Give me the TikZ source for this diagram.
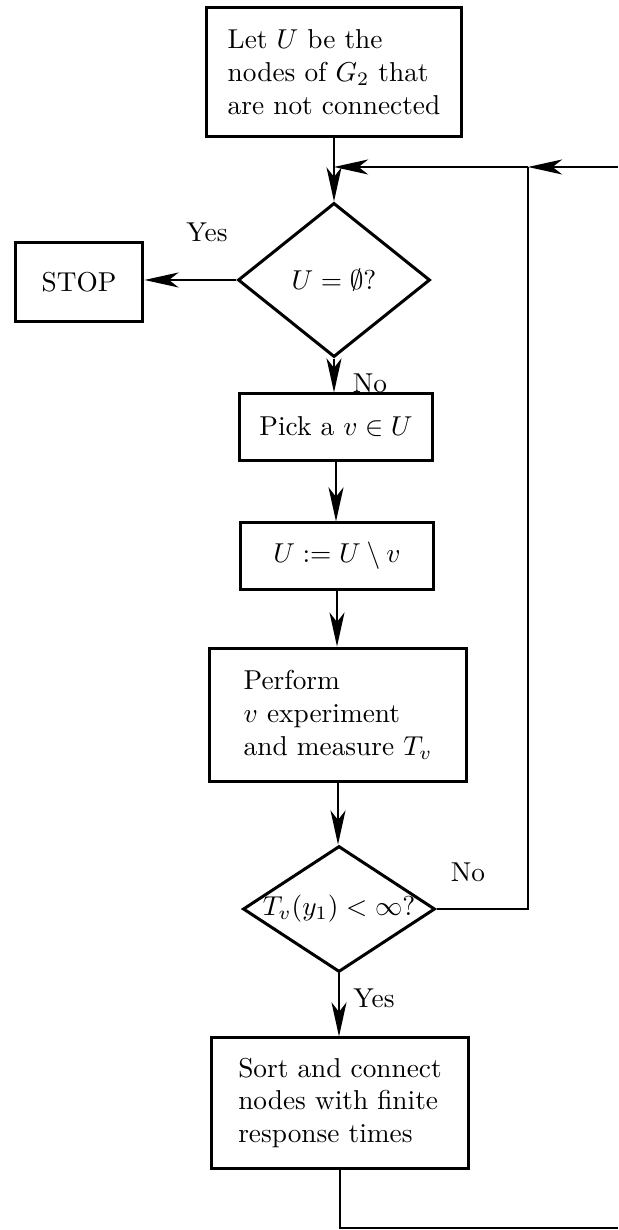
\documentclass[tikz,border=0pt]{standalone}
\usetikzlibrary{shapes.geometric,arrows.meta}

\tikzset{
  box/.style={draw, rectangle, line width=1.1pt, inner sep=0pt, align=left},
  decision/.style={draw, diamond, line width=1.1pt, inner sep=0pt},
  flow/.style={line width=0.6pt, -{Stealth[length=12.5pt,width=5.5pt,inset=3.5pt]}},
  wire/.style={line width=0.6pt},
  lbl/.style={inner sep=0pt}
}

\begin{document}
% one unit = one pixel of a 618 x 1230 page, y running downwards
\begin{tikzpicture}[x=0.366pt, y=-0.366pt]
  \useasboundingbox (0,0) rectangle (618,1230);

  % boxes and decisions
  \node[box, minimum width=93.3pt, minimum height=47.2pt] (init) at (334,72)
    {Let $U$ be the\\ nodes of $G_2$ that\\ are not connected};
  \node[decision, minimum width=70.3pt, minimum height=56.4pt,
        label={center:$U=\emptyset$?}] (empty) at (334,280) {};
  \node[box, minimum width=46.8pt, minimum height=28.9pt, align=center] (stop) at (79,282) {STOP};
  \node[box, minimum width=70.3pt, minimum height=24.2pt, align=center] (pick) at (336,427) {Pick a $v\in U$};
  \node[box, minimum width=70.3pt, minimum height=24.2pt, align=center] (remove) at (337,556) {$U:=U\setminus v$};
  \node[box, minimum width=94pt, minimum height=49pt] (exper) at (338,715)
    {Perform\\ $v$ experiment\\ and measure $T_v$};
  \node[decision, minimum width=70.3pt, minimum height=46.1pt,
        label={center:$T_v(y_1)<\infty$?}] (finite) at (339,909) {};
  \node[box, minimum width=94.4pt, minimum height=47.6pt] (sort) at (340,1103)
    {Sort and connect\\ nodes with finite\\ response times};

  % junction points of the return loop
  \coordinate (entry) at (618,167);
  \coordinate (join) at (528,167);
  \coordinate (merge) at (334,167);
  \coordinate (down) at (340,1228);
  \coordinate (out) at (618,1228);

  % connectors
  \draw[flow] (init.south) -- (empty.north);
  \draw[flow] (empty.west) -- (stop.east |- empty.west);
  \draw[flow] (empty.south) -- (empty.south |- pick.north);
  \draw[flow] (pick.south) -- (pick.south |- remove.north);
  \draw[flow] (remove.south) -- (remove.south |- exper.north);
  \draw[flow] (exper.south) -- (exper.south |- finite.north);
  \draw[flow] (finite.south) -- (finite.south |- sort.north);
  \draw[wire] (finite.east) -| (join);
  \draw[flow] (entry) -- (join);
  \draw[flow] (join) -- (merge);
  \draw[wire] (sort.south) -- (down) -- (out);

  % branch labels
  \node[lbl] (yes1) at (207,232) {Yes};
  \node[lbl] (no1) at (370,383) {No};
  \node[lbl] (no2) at (468,872) {No};
  \node[lbl] (yes2) at (374,998) {Yes};
\end{tikzpicture}
\end{document}
